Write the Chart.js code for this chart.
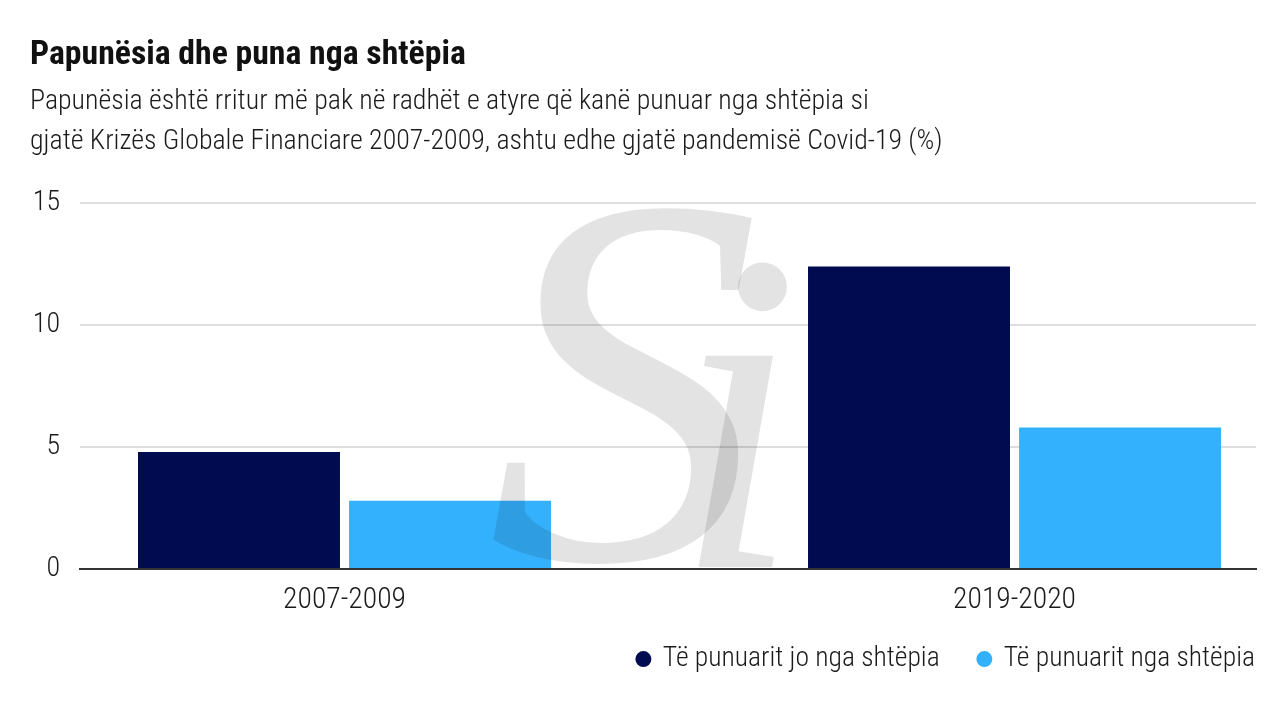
<!DOCTYPE html>
<html>
<head>
<meta charset="utf-8">
<script src="https://cdn.jsdelivr.net/npm/chart.js@4"></script>
<style>
  html, body { margin: 0; padding: 0; background: #fff; }
  #wrap { width: 1280px; height: 720px; position: relative; }
</style>
</head>
<body>
<div id="wrap"><canvas id="unemployment-chart"></canvas></div>
<script>
// data
var categories = ['2007-2009', '2019-2020'];
var notFromHome = [4.8, 12.4];
var fromHome = [2.8, 5.8];
var yTicks = [0, 5, 10, 15];

var seriesNames = ['Të punuarit jo nga shtëpia', 'Të punuarit nga shtëpia'];
var titleText = 'Papunësia dhe puna nga shtëpia';
var subtitleLines = [
  'Papunësia është rritur më pak në radhët e atyre që kanë punuar nga shtëpia si',
  'gjatë Krizës Globale Financiare 2007-2009, ashtu edhe gjatë pandemisë Covid-19 (%)'
];

var FONT = '"Roboto Condensed", "DejaVu Sans Condensed", "Liberation Sans", sans-serif';
var LIGHT = '300';

// text helpers: pick sizes so the texts get the widths they have in the picture
var mctx = document.createElement('canvas').getContext('2d');
function fontStr(size, weight) { return (weight || 'normal') + ' ' + size + 'px ' + FONT; }
function fitSize(text, weight, width) {
  mctx.font = fontStr(100, weight);
  return 100 * width / mctx.measureText(text).width;
}
// distance from the 'middle' line down to the baseline
function baseBelowMiddle(size, weight) {
  mctx.font = fontStr(size, weight);
  mctx.textBaseline = 'middle';
  return mctx.measureText('H').actualBoundingBoxDescent;
}

var chartTop = 203, chartBottom = 569;

var titleSize = fitSize(titleText, 'bold', 436);
var titleLH = titleSize * 1.2;
var titlePadTop = (64 - baseBelowMiddle(titleSize, 'bold')) - titleLH / 2;
var titleBottom = titlePadTop + titleLH;

var subSize = fitSize(subtitleLines[1], LIGHT, 913);
var subLH = 40;
var subPadTop = (109 - baseBelowMiddle(subSize, LIGHT)) - subLH / 2 - titleBottom;
var subPadBottom = chartTop - (titleBottom + subPadTop + 2 * subLH);

var xSize = fitSize(categories[0], LIGHT, 123);
var xPad = 608 - chartBottom - xSize * 0.6 - baseBelowMiddle(xSize, LIGHT);

var ySize = 28;

// the legend is drawn legLift px above its layout box, so the x labels keep room
var legSize = fitSize(seriesNames[0], LIGHT, 277);
var legPad = 39;
var legLift = 24;
var legTop = (666 - baseBelowMiddle(legSize, LIGHT)) - legPad - legSize / 2;
var xAxisHeight = legTop + legLift - chartBottom;
var padBottom = 720 - (legTop + legLift + legSize + legPad + 10);

function toPoints(values) {
  return values.map(function (v, i) { return { x: i, y: v }; });
}

// light "Si" logo laid over the plot
var watermark = {
  id: 'watermark',
  afterDatasetsDraw: function (chart) {
    var ctx = chart.ctx;
    ctx.save();
    ctx.globalCompositeOperation = 'multiply';
    ctx.fillStyle = '#e3e3e3';
    ctx.textBaseline = 'alphabetic';
    ctx.font = 'italic 500px "Liberation Serif", "DejaVu Serif", serif';
    var m = ctx.measureText('S');
    var h = m.actualBoundingBoxAscent + m.actualBoundingBoxDescent;
    var w = m.actualBoundingBoxLeft + m.actualBoundingBoxRight;
    var sy = 364 / h, sx = 265 / w;
    ctx.setTransform(sx, 0, 0, sy, 487 + m.actualBoundingBoxLeft * sx, 567 - m.actualBoundingBoxDescent * sy);
    ctx.fillText('S', 0, 0);
    ctx.setTransform(1, 0, 0, 1, 0, 0);
    ctx.font = 'italic 460px "Liberation Serif", "DejaVu Serif", serif';
    var mi = ctx.measureText('i');
    ctx.fillText('i', 788 - mi.actualBoundingBoxRight, 567 - mi.actualBoundingBoxDescent);
    ctx.restore();
  }
};

// move the legend: last label ends at the plot's right edge, row sits under the x labels
var legendShift = {
  id: 'legendShift',
  afterLayout: function (chart) {
    chart.legend.left += legPad - 1;
    chart.legend.right += legPad - 1;
    chart.legend.top -= legLift;
    chart.legend.bottom -= legLift;
  }
};

var chartData = {
  datasets: [{
    label: seriesNames[0],
    data: toPoints(notFromHome),
    backgroundColor: '#000c4f',
    borderWidth: 0,
    categoryPercentage: 0.63,
    barPercentage: 0.957
  }, {
    label: seriesNames[1],
    data: toPoints(fromHome),
    backgroundColor: '#33b1fd',
    borderWidth: 0,
    categoryPercentage: 0.63,
    barPercentage: 0.957
  }]
};

var chartOptions = {
  responsive: true,
  maintainAspectRatio: false,
  animation: false,
  layout: { padding: { left: 30, right: 24, top: 0, bottom: padBottom } },
  plugins: {
    title: {
      display: true,
      text: titleText,
      align: 'start',
      color: '#111',
      font: { family: FONT, size: titleSize, weight: 'bold', lineHeight: 1.2 },
      padding: { top: titlePadTop, bottom: 0 }
    },
    subtitle: {
      display: true,
      text: subtitleLines,
      align: 'start',
      color: '#1a1a1a',
      font: { family: FONT, size: subSize, weight: LIGHT, lineHeight: subLH / subSize },
      padding: { top: subPadTop, bottom: subPadBottom }
    },
    legend: {
      position: 'bottom',
      align: 'end',
      labels: {
        usePointStyle: true,
        pointStyle: 'circle',
        boxHeight: 11.3,
        boxWidth: 11.3,
        color: '#1a1a1a',
        padding: legPad,
        font: { family: FONT, size: legSize, weight: LIGHT }
      }
    },
    tooltip: { enabled: false }
  },
  scales: {
    x: {
      type: 'linear',
      offset: false,
      min: -0.3948,
      max: 1.3604,
      afterBuildTicks: function (scale) {
        scale.ticks = categories.map(function (c, i) { return { value: i }; });
      },
      afterFit: function (scale) { scale.height = xAxisHeight; },
      ticks: {
        padding: xPad,
        color: '#1a1a1a',
        font: { family: FONT, size: xSize, weight: LIGHT, lineHeight: 1.2 },
        callback: function (value) { return categories[value]; }
      },
      grid: { display: false, drawTicks: false, offset: false },
      border: { display: true, color: '#333', width: 2 }
    },
    y: {
      min: 0,
      max: 15,
      afterBuildTicks: function (scale) {
        scale.ticks = yTicks.map(function (v) { return { value: v }; });
      },
      afterFit: function (scale) { scale.width = 50; },
      ticks: {
        padding: 20,
        color: '#1a1a1a',
        font: { family: FONT, size: ySize, weight: LIGHT }
      },
      grid: {
        drawTicks: false,
        lineWidth: 2,
        color: function (c) { return c.tick && c.tick.value === 0 ? 'rgba(0,0,0,0)' : '#dedede'; }
      },
      border: { display: false }
    }
  }
};

new Chart(document.getElementById('unemployment-chart'), {
  type: 'bar',
  data: chartData,
  options: chartOptions,
  plugins: [watermark, legendShift]
});
</script>
</body>
</html>
